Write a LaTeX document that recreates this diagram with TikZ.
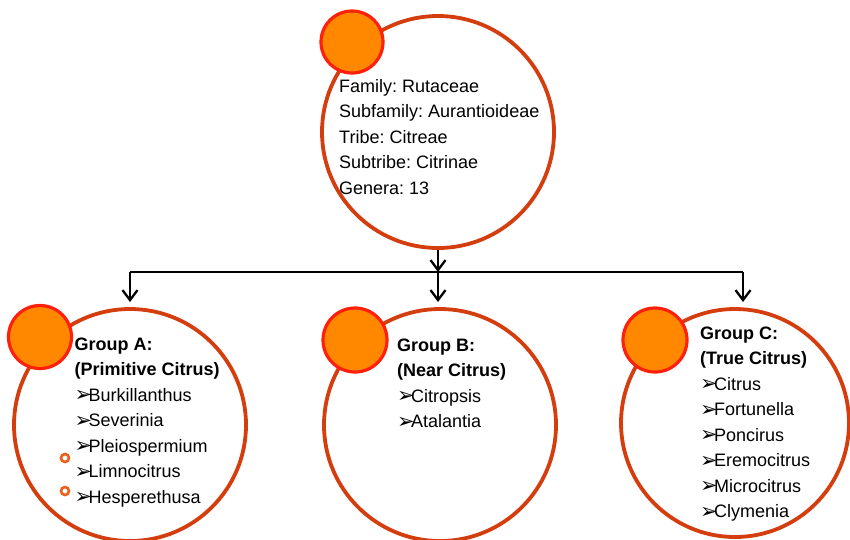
\documentclass[tikz,border=0pt]{standalone}
\usepackage{fontspec}
\setmainfont{Liberation Sans}
\newfontfamily\symfont{DejaVu Sans}
\usetikzlibrary{arrows.meta}
\frenchspacing
\definecolor{ringred}{RGB}{212,62,14}
\definecolor{dotfill}{RGB}{255,136,0}
\definecolor{dotedge}{RGB}{255,32,12}
\definecolor{tinyor}{RGB}{236,96,28}
\newcommand\itm{\makebox[14pt][l]{\symfont\fontsize{21}{21}\selectfont\raisebox{-0.5pt}{➢}}}
\tikzset{
  bigring/.style={circle, draw=ringred, line width=3.8pt, fill=white, inner sep=0pt, minimum size=#1},
  orangedot/.style={circle, draw=dotedge, line width=3.2pt, fill=dotfill, inner sep=0pt, minimum size=#1},
  tinydot/.style={circle, draw=tinyor, line width=2.6pt, fill=white, inner sep=0pt, minimum size=8pt},
  txt/.style={anchor=base west, inner sep=0pt, font=\fontsize{18}{22}\selectfont},
  btxt/.style={txt, font=\fontsize{18}{22}\selectfont\bfseries},
  conn/.style={line width=2.3pt, black},
  arr/.style={conn, -{Straight Barb[length=10pt,width=15pt,line width=2.3pt]}}
}
\begin{document}
\begin{tikzpicture}[x=1pt,y=-1pt]
\useasboundingbox (0,0) rectangle (850,539);
\clip (0,0) rectangle (850,539);
% big circles
\node[bigring=232pt] (top) at (438,132) {};
\node[bigring=232pt] (ga) at (130,425) {};
\node[bigring=232pt] (gb) at (440,425) {};
\node[bigring=228pt] (gc) at (735,423) {};
% orange dots
\node[orangedot=62pt] (dtop) at (352,42) {};
\node[orangedot=63pt] (da) at (40,337) {};
\node[orangedot=64pt] (db) at (355,340) {};
\node[orangedot=64pt] (dc) at (655,340) {};
% tiny dots
\node[tinydot] (ta1) at (65,458) {};
\node[tinydot] (ta2) at (65,491) {};
% top text
\foreach \t [count=\i from 0] in {Family: Rutaceae, Subfamily: Aurantioideae, Tribe: Citreae, Subtribe: Citrinae, Genera: 13}
  \node[txt] (tt\i) at (339,{92+25.5*\i}) {\t};
% group A
\node[btxt] (ah1) at (74.5,350) {Group A:};
\node[btxt] (ah2) at (74.5,375.5) {(Primitive Citrus)};
\foreach \t [count=\i from 2] in {Burkillanthus, Severinia, Pleiospermium, Limnocitrus, Hesperethusa}
  \node[txt] (ai\i) at (74.5,{350+25.5*\i}) {\itm\t};
% group B
\node[btxt] (bh1) at (397,351) {Group B:};
\node[btxt] (bh2) at (397,376.5) {(Near Citrus)};
\foreach \t [count=\i from 2] in {Citropsis, Atalantia}
  \node[txt] (bi\i) at (397,{351+25.5*\i}) {\itm\t};
% group C
\node[btxt] (ch1) at (700,339) {Group C:};
\node[btxt] (ch2) at (700,364.5) {(True Citrus)};
\foreach \t [count=\i from 2] in {Citrus, Fortunella, Poncirus, Eremocitrus, Microcitrus, Clymenia}
  \node[txt] (ci\i) at (700,{339+25.5*\i}) {\itm\t};
% connectors
\coordinate (bar) at (438,272);
\coordinate (barL) at (130,272);
\coordinate (barR) at (743,272);
\coordinate (tipA) at (130,302);
\coordinate (tipB) at (438,302);
\coordinate (tipC) at (743,302);
\draw[arr] (top.south) -- (bar);
\draw[conn] (barL) -- (barR);
\draw[arr] (barL) -- (tipA);
\draw[arr] (bar) -- (tipB);
\draw[arr] (barR) -- (tipC);
\end{tikzpicture}
\end{document}
